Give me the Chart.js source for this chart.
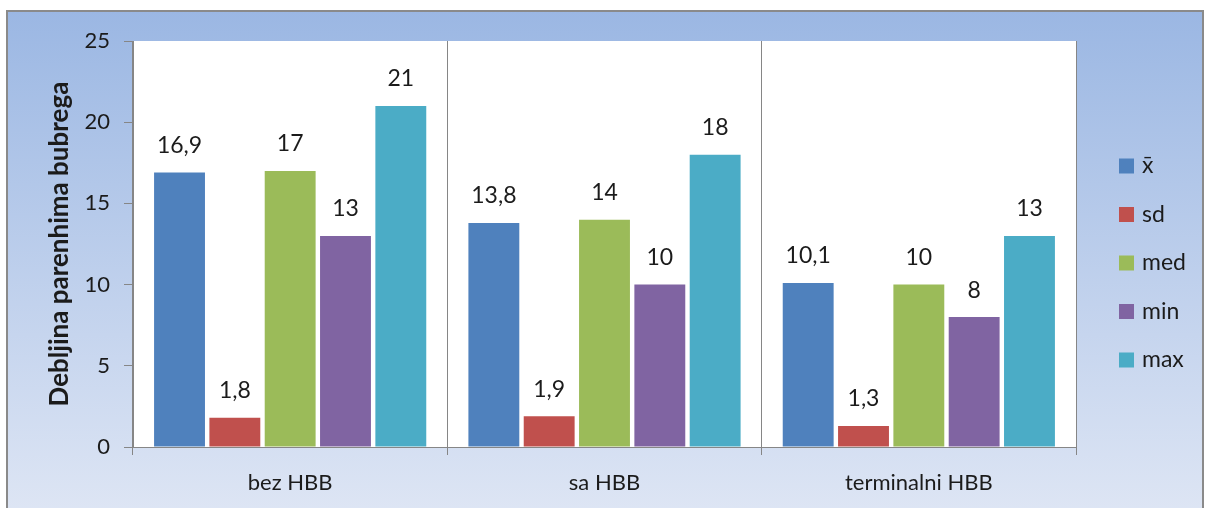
<!DOCTYPE html>
<html>
<head>
<meta charset="utf-8">
<script src="https://cdn.jsdelivr.net/npm/chart.js@4.4.0/dist/chart.umd.min.js"></script>
<style>
  html, body { margin: 0; padding: 0; background: #fff; }
  #wrap { width: 1209px; height: 508px; }
</style>
</head>
<body>
<div id="wrap"><canvas id="chart"></canvas></div>
<script>
const categories = ['bez HBB', 'sa HBB', 'terminalni HBB'];
const seriesNames = ['x\u0304', 'sd', 'med', 'min', 'max'];
const meanValues = [16.9, 13.8, 10.1];
const sdValues = [1.8, 1.9, 1.3];
const medValues = [17, 14, 10];
const minValues = [13, 10, 8];
const maxValues = [21, 18, 13];
const yTickValues = [0, 5, 10, 15, 20, 25];
const seriesColors = ['#4F81BD', '#C0504D', '#9BBB59', '#8064A2', '#4BACC6'];

const FONT = 'Lato, "Open Sans", sans-serif';
const TEXT = '#1b1b1b';
const AXIS = '#868686';

// frame, gradient and white plot area
const backdrop = {
  id: 'backdrop',
  beforeDraw(chart) {
    const { ctx, chartArea: a } = chart;
    ctx.save();
    const g = ctx.createLinearGradient(0, 11, 0, 508);
    g.addColorStop(0, '#9BB7E3');
    g.addColorStop(1, '#DDE5F4');
    ctx.fillStyle = g;
    ctx.fillRect(7, 11, 1196, 500);
    ctx.strokeStyle = '#8a8a8a';
    ctx.lineWidth = 2;
    ctx.strokeRect(7, 11, 1196, 500);
    ctx.fillStyle = '#fff';
    ctx.fillRect(a.left, a.top, a.right - a.left, a.bottom - a.top);
    ctx.restore();
  }
};

// value labels above bars
const valueLabels = {
  id: 'valueLabels',
  afterDatasetsDraw(chart) {
    const { ctx } = chart;
    ctx.save();
    ctx.font = '23px ' + FONT;
    ctx.fillStyle = TEXT;
    ctx.textAlign = 'center';
    ctx.textBaseline = 'middle';
    chart.data.datasets.forEach((ds, i) => {
      chart.getDatasetMeta(i).data.forEach((bar, j) => {
        ctx.fillText(String(ds.data[j]).replace('.', ','), bar.x, bar.y - 27);
      });
    });
    ctx.restore();
  }
};

// legend on the right
const sideLegend = {
  id: 'sideLegend',
  afterDraw(chart) {
    const { ctx } = chart;
    ctx.save();
    ctx.font = '23px ' + FONT;
    ctx.textBaseline = 'middle';
    ctx.textAlign = 'left';
    chart.data.datasets.forEach((ds, i) => {
      const y = 166 + i * 48.5;
      ctx.fillStyle = ds.backgroundColor;
      ctx.fillRect(1119, y - 7.5, 15, 15);
      ctx.fillStyle = TEXT;
      ctx.fillText(ds.label, 1142, y);
    });
    ctx.restore();
  }
};

const series = [meanValues, sdValues, medValues, minValues, maxValues];

new Chart(document.getElementById('chart'), {
  type: 'bar',
  data: {
    labels: categories,
    datasets: series.map((vals, i) => ({
      label: seriesNames[i],
      data: vals,
      backgroundColor: seriesColors[i],
      borderWidth: 0,
      barPercentage: 0.92,
      categoryPercentage: 0.88
    }))
  },
  options: {
    responsive: true,
    maintainAspectRatio: false,
    animation: false,
    layout: { padding: { top: 41, right: 133, left: 0, bottom: 0 } },
    plugins: { legend: { display: false }, tooltip: { enabled: false } },
    scales: {
      x: {
        grid: { offset: true, color: AXIS, drawOnChartArea: true, tickLength: 8 },
        border: { color: AXIS },
        ticks: { color: TEXT, font: { family: FONT, size: 22 }, padding: 15 },
        afterFit(s) { s.height = 61; }
      },
      y: {
        min: 0,
        max: 25,
        afterBuildTicks(s) { s.ticks = yTickValues.map(v => ({ value: v })); },
        ticks: { color: TEXT, font: { family: FONT, size: 22 }, padding: 14 },
        grid: { drawOnChartArea: false, color: AXIS, tickLength: 9 },
        border: { color: AXIS },
        title: {
          display: true,
          text: 'Debljina parenhima bubrega',
          color: TEXT,
          font: { family: FONT, size: 26, weight: 'bold' },
          padding: { top: 44, bottom: 0 }
        },
        afterFit(s) { s.width = 133; }
      }
    }
  },
  plugins: [backdrop, valueLabels, sideLegend]
});
</script>
</body>
</html>
